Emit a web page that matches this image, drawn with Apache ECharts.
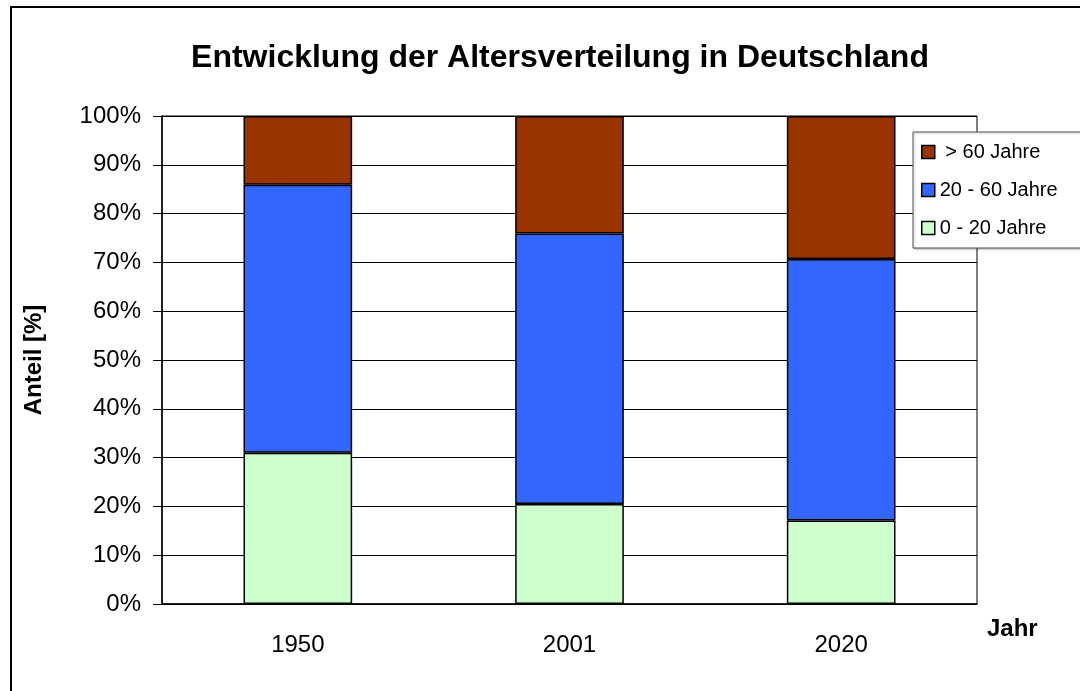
<!DOCTYPE html>
<html>
<head>
<meta charset="utf-8">
<title>Entwicklung der Altersverteilung in Deutschland</title>
<script src="https://cdn.jsdelivr.net/npm/echarts@6/dist/echarts.min.js"></script>
<style>
  html, body { margin: 0; padding: 0; background: #fff; }
  #chart { width: 1080px; height: 691px; }
</style>
</head>
<body>
<div id="chart"></div>
<script>
// Daten
var jahre = ['1950', '2001', '2020']
var jung = [31.0, 20.5, 17.1]      // 0 - 20 Jahre
var mittel = [54.9, 55.4, 53.6]    // 20 - 60 Jahre
var alt = [14.1, 24.1, 29.3]       // > 60 Jahre
var namen = ['0 - 20 Jahre', '20 - 60 Jahre', ' > 60 Jahre']
var farben = ['#CCFFCC', '#3366FF', '#993300']

var chart = echarts.init(document.getElementById('chart'))

function bar (name, data, color) {
  return {
    name: name,
    type: 'bar',
    stack: 'gesamt',
    barWidth: '40%',
    data: data,
    itemStyle: { color: color, borderColor: '#000', borderWidth: 1.5 }
  }
}

var option = {
  backgroundColor: '#fff',
  animation: false,
  textStyle: { fontFamily: 'Liberation Sans, Arial, sans-serif' },
  title: {
    text: 'Entwicklung der Altersverteilung in Deutschland',
    left: 555,
    textAlign: 'center',
    top: 37,
    textStyle: { fontSize: 32, fontWeight: 'bold', color: '#000' }
  },
  graphic: [{
    type: 'rect',
    shape: { x: 11, y: 7, width: 1200, height: 800 },
    style: { fill: 'none', stroke: '#000', lineWidth: 2 },
    z: 100
  }],
  legend: {
    orient: 'vertical',
    left: 913,
    top: 132,
    // reihenfolge wie im Bild: oben die Alten
    data: [namen[2], namen[1], namen[0]],
    icon: 'rect',
    itemWidth: 13,
    itemHeight: 13,
    itemGap: 18,
    padding: [10, 60, 10, 8],
    backgroundColor: '#fff',
    borderColor: '#555',
    borderWidth: 1,
    shadowColor: 'rgba(0,0,0,0.25)',
    shadowBlur: 2,
    shadowOffsetX: 1,
    shadowOffsetY: 1,
    textStyle: { fontSize: 20, color: '#000' },
    itemStyle: { borderColor: '#000', borderWidth: 1.5 }
  },
  grid: {
    left: 162,
    right: 103,
    top: 116,
    bottom: 87,
    show: true,
    borderColor: '#000',
    borderWidth: 1
  },
  xAxis: {
    type: 'category',
    data: jahre,
    name: 'Jahr',
    nameLocation: 'end',
    nameGap: 10,
    nameTextStyle: { fontSize: 24, fontWeight: 'bold', color: '#000', verticalAlign: 'top', padding: [13, 0, 0, 0] },
    axisLine: { lineStyle: { color: '#000', width: 1.5 } },
    axisTick: { show: false },
    axisLabel: { fontSize: 24, color: '#000', margin: 29 }
  },
  yAxis: {
    type: 'value',
    min: 0,
    max: 100,
    interval: 10,
    name: 'Anteil [%]',
    nameLocation: 'middle',
    nameGap: 116,
    nameRotate: 90,
    nameTextStyle: { fontSize: 24, fontWeight: 'bold', color: '#000' },
    axisLine: { show: true, lineStyle: { color: '#000', width: 1.5 } },
    axisTick: { show: true, inside: false, length: 9, lineStyle: { color: '#000' } },
    axisLabel: { fontSize: 24, color: '#000', margin: 21, formatter: '{value}%' },
    splitLine: { show: true, lineStyle: { color: '#000', width: 1 } }
  },
  series: [
    bar(namen[0], jung, farben[0]),
    bar(namen[1], mittel, farben[1]),
    bar(namen[2], alt, farben[2])
  ]
}

chart.setOption(option)
</script>
</body>
</html>
